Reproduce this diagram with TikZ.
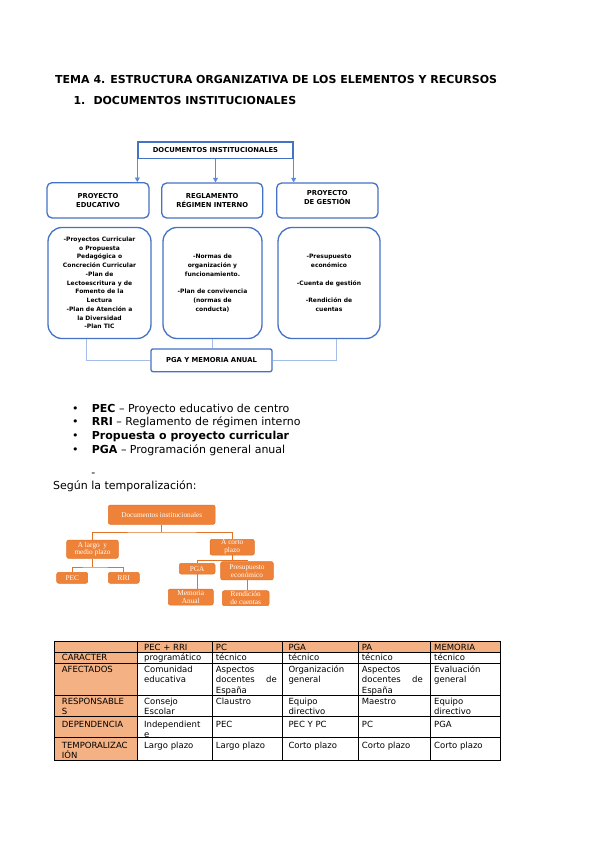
\documentclass[tikz,border=0pt]{standalone}
\usepackage{fontspec}
\setmainfont{DejaVu Sans}
\newfontfamily\serifo{Liberation Serif}
\usetikzlibrary{arrows.meta}
\definecolor{bl}{HTML}{4472C4}
\definecolor{bla}{HTML}{5B8BD8}
\definecolor{blc}{HTML}{A4BEE8}
\definecolor{org}{HTML}{EE8238}
\definecolor{orgd}{HTML}{E07328}
\definecolor{salm}{HTML}{F4B183}
\newcommand\tcl[4]{\node[tab] (#1) at (#2,#3) {#4};}
\begin{document}
\begin{tikzpicture}[x=1pt,y=-1pt,
  txt/.style={anchor=base west,inner sep=0pt,font=\fontsize{11}{13}\selectfont},
  ttl/.style={anchor=base west,inner sep=0pt,font=\fontsize{11}{13}\selectfont\bfseries},
  tbox/.style={draw=bl,line width=1.3pt,rounded corners=5pt,inner sep=0pt,align=center,font=\fontsize{6.8}{8.6}\selectfont\bfseries},
  ibox/.style={draw=bl,line width=1.3pt,rounded corners=14pt,inner sep=0pt,align=center,font=\fontsize{6}{8.75}\selectfont\bfseries},
  arr/.style={draw=bla,line width=0.9pt,-{Triangle[length=4.5pt,width=5pt]}},
  cline/.style={draw=blc,line width=1pt},
  obox/.style={draw=orgd,fill=org,line width=0.5pt,rounded corners=2pt,inner sep=0pt,align=center,text=white,font=\fontsize{7.3}{7.8}\selectfont\serifo},
  oline/.style={draw=orgd,line width=0.7pt},
  tab/.style={anchor=base west,inner sep=0pt,font=\fontsize{8.5}{10}\selectfont},
  tabr/.style={anchor=base east,inner sep=0pt,font=\fontsize{8.5}{10}\selectfont}]
\useasboundingbox (0,0) rectangle (599,848);
\fill[white] (0,0) rectangle (599,848);

% titles
\node[ttl] (title) at (55,83.5) {TEMA 4. ESTRUCTURA ORGANIZATIVA DE LOS ELEMENTOS Y RECURSOS};
\node[ttl] (num1) at (73.3,104.5) {1.};
\node[ttl] (sec1) at (93.3,104.5) {DOCUMENTOS INSTITUCIONALES};

% blue diagram
\node[draw=bl,line width=1.3pt,inner sep=0pt,minimum width=155pt,minimum height=16.3pt,font=\fontsize{6.8}{8}\selectfont\bfseries] (doc) at (215.5,150) {DOCUMENTOS INSTITUCIONALES};
\node[tbox,minimum width=102pt,minimum height=35.3pt] (b1) at (98,200.3) {PROYECTO\\EDUCATIVO};
\node[tbox,minimum width=101pt,minimum height=35pt] (b2) at (212.2,200.5) {REGLAMENTO\\RÉGIMEN INTERNO};
\node[tbox,minimum width=101.3pt,minimum height=35pt] (b3) at (327.3,200.5) {};
\node[inner sep=0pt,align=center,font=\fontsize{6.8}{8.6}\selectfont\bfseries] (b3t) at (327.3,197.4) {PROYECTO\\DE GESTIÓN};
\draw[arr] (doc.south west) -- (doc.south west |- b1.north);
\draw[arr] (doc.south) -- (doc.south |- b2.north);
\draw[arr] (doc.south east) -- (doc.south east |- b3.north);

\node[ibox,minimum width=103pt,minimum height=111pt] (A) at (99.5,283) {-Proyectos Curricular\\o Propuesta\\Pedagógica o\\Concreción Curricular\\-Plan de\\Lectoescritura y de\\Fomento de la\\Lectura\\-Plan de Atención a\\la Diversidad\\-Plan TIC};
\node[ibox,minimum width=99pt,minimum height=111pt] (B) at (212.5,283) {-Normas de\\organización y\\funcionamiento.\\[8.75pt]-Plan de convivencia\\(normas de\\conducta)};
\node[ibox,minimum width=102pt,minimum height=111pt] (C) at (329,283) {-Presupuesto\\económico\\[8.75pt]-Cuenta de gestión\\[8.75pt]-Rendición de\\cuentas};
\node[draw=bl,line width=1.3pt,rounded corners=2pt,inner sep=0pt,minimum width=121pt,minimum height=22.7pt,font=\fontsize{6.8}{8}\selectfont\bfseries] (pgab) at (211.5,360.3) {PGA Y MEMORIA ANUAL};
\coordinate (ca) at (86.7,338.5);
\coordinate (cc) at (336.7,338.5);
\draw[cline] (ca) |- (pgab.west);
\draw[cline] (B.south) -- (B.south |- pgab.north);
\draw[cline] (cc) |- (pgab.east);

% bullets
\node[txt] (bu1) at (72,412.3) {•};
\node[txt] (l1) at (91.7,412.3) {\textbf{PEC} – Proyecto educativo de centro};
\node[txt] (bu2) at (72,425.7) {•};
\node[txt] (l2) at (91.7,425.7) {\textbf{RRI} – Reglamento de régimen interno};
\node[txt] (bu3) at (72,439.2) {•};
\node[txt] (l3) at (91.7,439.2) {\textbf{Propuesta o proyecto curricular}};
\node[txt] (bu4) at (72,453.3) {•};
\node[txt] (l4) at (91.7,453.3) {\textbf{PGA} – Programación general anual};
\node[txt] (l5) at (91.2,476.5) {-};
\node[txt] (temp) at (53,489) {Según la temporalización:};

% orange diagram
\node[obox,minimum width=106.7pt,minimum height=19.3pt] (od) at (161.7,514.7) {Documentos institucionales};
\node[obox,minimum width=51.6pt,minimum height=18.3pt] (ol) at (92.5,549.2) {A largo\ \ y\\medio plazo};
\node[obox,minimum width=44.3pt,minimum height=15.7pt] (oc) at (232.2,547.2) {A corto\\plazo};
\node[obox,minimum width=31pt,minimum height=11pt] (pec) at (72.2,577.8) {PEC};
\node[obox,minimum width=31pt,minimum height=11pt] (rri) at (123.8,577.8) {RRI};
\node[obox,minimum width=35.7pt,minimum height=10.7pt] (opga) at (197.2,568.7) {PGA};
\node[obox,minimum width=52.6pt,minimum height=18.3pt] (pre) at (247,570.8) {Presupuesto\\económico};
\node[obox,minimum width=45pt,minimum height=16pt] (mem) at (190.8,597) {Memoria\\Anual};
\node[obox,minimum width=46.7pt,minimum height=15pt] (ren) at (245.7,598.2) {Rendición\\de cuentas};
\draw[oline] (od.south) -- ++(0,7.4) coordinate (oj);
\draw[oline] (ol.north) |- (oj) -| (oc.north);
\draw[oline] (ol.south) -- ++(0,8.4) coordinate (lj);
\draw[oline] (pec.north) |- (lj) -| (rri.north);
\draw[oline] (oc.south) -- ++(0,5) coordinate (cj);
\draw[oline] (opga.north) |- (cj) -| (pre.north);
\draw[oline] (opga.south) -- (opga.south |- mem.north);
\draw[oline] (pre.south) -- (pre.south |- ren.north);

% table
\fill[salm] (54,641) rectangle (500,652.3);
\fill[salm] (54,641) rectangle (137.3,760.7);
\foreach \yy in {641,652.3,663.3,695.7,716.7,737.7,760.7} \draw[line width=0.8pt] (54,\yy) -- (500,\yy);
\foreach \xx in {54,137.3,212.7,282,358.3,430.7,500} \draw[line width=0.8pt] (\xx,641) -- (\xx,760.7);

\tcl{h2}{144}{650.5}{PEC + RRI}
\tcl{h3}{215.7}{650.5}{PC}
\tcl{h4}{288.3}{650.5}{PGA}
\tcl{h5}{361.7}{650.5}{PA}
\tcl{h6}{434}{650.5}{MEMORIA}

\tcl{r1a}{61.7}{660.7}{CARÁCTER}
\tcl{r1b}{144}{660.7}{programático}
\tcl{r1c}{215.7}{660.7}{técnico}
\tcl{r1d}{288.3}{660.7}{técnico}
\tcl{r1e}{361.7}{660.7}{técnico}
\tcl{r1f}{434}{660.7}{técnico}

\tcl{r2a}{61.7}{672.3}{AFECTADOS}
\tcl{r2b1}{144}{672.3}{Comunidad}
\tcl{r2b2}{144}{682.7}{educativa}
\tcl{r2c1}{215.7}{672.3}{Aspectos}
\tcl{r2c2}{215.7}{682.7}{docentes}
\node[tabr] (r2c2r) at (277,682.7) {de};
\tcl{r2c3}{215.7}{693.1}{España}
\tcl{r2d1}{288.3}{672.3}{Organización}
\tcl{r2d2}{288.3}{682.7}{general}
\tcl{r2e1}{361.7}{672.3}{Aspectos}
\tcl{r2e2}{361.7}{682.7}{docentes}
\node[tabr] (r2e2r) at (423,682.7) {de};
\tcl{r2e3}{361.7}{693.1}{España}
\tcl{r2f1}{434}{672.3}{Evaluación}
\tcl{r2f2}{434}{682.7}{general}

\tcl{r3a1}{61.7}{704}{RESPONSABLE}
\tcl{r3a2}{61.7}{714.5}{S}
\tcl{r3b1}{144}{704}{Consejo}
\tcl{r3b2}{144}{714.5}{Escolar}
\tcl{r3c}{215.7}{704}{Claustro}
\tcl{r3d1}{288.3}{704}{Equipo}
\tcl{r3d2}{288.3}{714.5}{directivo}
\tcl{r3e}{361.7}{704}{Maestro}
\tcl{r3f1}{434}{704}{Equipo}
\tcl{r3f2}{434}{714.5}{directivo}

\tcl{r4a}{61.7}{727}{DEPENDENCIA}
\tcl{r4b1}{144}{727}{Independient}
\tcl{r4b2}{144}{737.3}{e}
\tcl{r4c}{215.7}{727}{PEC}
\tcl{r4d}{288.3}{727}{PEC Y PC}
\tcl{r4e}{361.7}{727}{PC}
\tcl{r4f}{434}{727}{PGA}

\tcl{r5a1}{61.7}{748}{TEMPORALIZAC}
\tcl{r5a2}{61.7}{758.3}{IÓN}
\tcl{r5b}{144}{748}{Largo plazo}
\tcl{r5c}{215.7}{748}{Largo plazo}
\tcl{r5d}{288.3}{748}{Corto plazo}
\tcl{r5e}{361.7}{748}{Corto plazo}
\tcl{r5f}{434}{748}{Corto plazo}
\end{tikzpicture}
\end{document}
